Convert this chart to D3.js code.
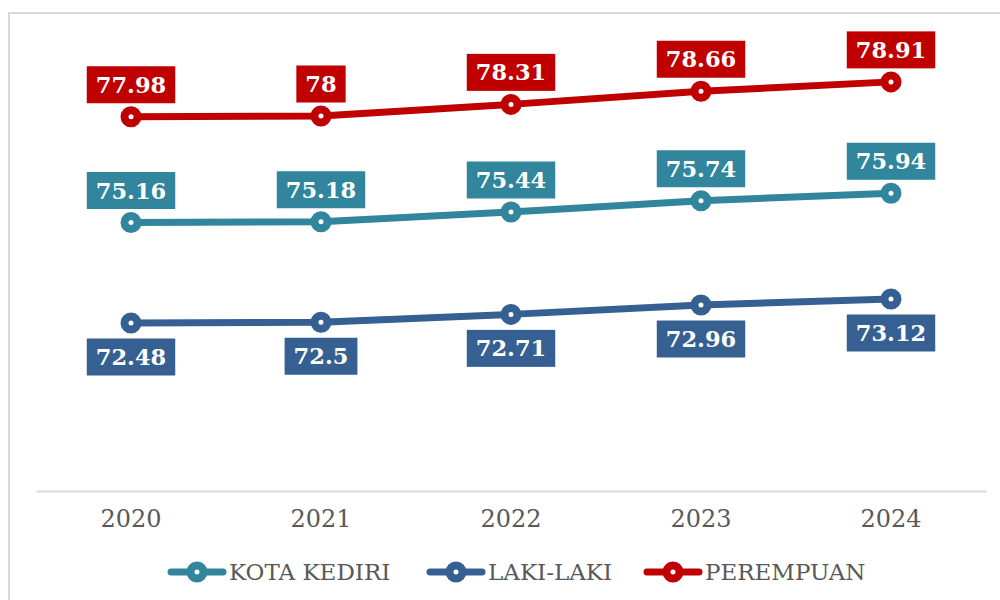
<!DOCTYPE html>
<html>
<head>
<meta charset="utf-8">
<script src="https://cdn.jsdelivr.net/npm/d3@7"></script>
<style>
  html, body { margin: 0; padding: 0; background: #fff; }
  svg { display: block; }
</style>
</head>
<body>
<svg id="chart" width="1000" height="600"></svg>
<script>
const years = ["2020", "2021", "2022", "2023", "2024"];
const seriesNames = ["KOTA KEDIRI", "LAKI-LAKI", "PEREMPUAN"];
const kotaKediri = [75.16, 75.18, 75.44, 75.74, 75.94];
const lakiLaki = [72.48, 72.5, 72.71, 72.96, 73.12];
const perempuan = [77.98, 78, 78.31, 78.66, 78.91];
const colors = ["#31859C", "#376092", "#C00000"];
const yDomain = [68, 80];

const series = [
    { name: seriesNames[0], values: kotaKediri, color: colors[0], above: true },
    { name: seriesNames[1], values: lakiLaki, color: colors[1], above: false },
    { name: seriesNames[2], values: perempuan, color: colors[2], above: true },
];

const svg = d3.select("#chart");

// frame (only top and left edges visible)
svg.append("path")
    .attr("d", "M9,600 L9,13 L1000,13")
    .attr("fill", "none")
    .attr("stroke", "#D9D9D9")
    .attr("stroke-width", 2);

const xScale = d3.scaleBand().domain(years).range([36, 986]);
const yScale = d3.scaleLinear().domain(yDomain).range([491, 41]);

// x axis
const xAxis = svg.append("g")
    .attr("transform", "translate(0,491)")
    .call(d3.axisBottom(xScale).tickSize(0).tickPadding(19));
xAxis.select(".domain").attr("stroke", "#D9D9D9").attr("stroke-width", 2);
xAxis.selectAll("text")
    .attr("fill", "#595959")
    .style("font-family", "'DejaVu Serif', serif")
    .style("font-size", "24px");

const line = d3.line()
    .x((d, i) => xScale(years[i]) + xScale.bandwidth() / 2)
    .y((d) => yScale(d));

series.forEach((s) => {
    svg.append("path")
        .attr("d", line(s.values))
        .attr("fill", "none")
        .attr("stroke", s.color)
        .attr("stroke-width", 7)
        .attr("stroke-linejoin", "round");

    const pts = svg.selectAll(null)
        .data(s.values)
        .enter()
        .append("g")
        .attr("transform", (d, i) =>
            `translate(${xScale(years[i]) + xScale.bandwidth() / 2},${yScale(d)})`);

    pts.append("circle")
        .attr("r", 6.5)
        .attr("fill", "#fff")
        .attr("stroke", s.color)
        .attr("stroke-width", 8);

    // data labels
    const lab = pts.append("g")
        .attr("transform", s.above ? "translate(0,-32)" : "translate(0,34)");
    lab.append("text")
        .attr("text-anchor", "middle")
        .attr("dy", "0.36em")
        .attr("fill", "#fff")
        .style("font-family", "'DejaVu Serif', serif")
        .style("font-weight", "bold")
        .style("font-size", "22.5px")
        .text((d) => String(d));
    lab.each(function () {
        const g = d3.select(this);
        const bb = g.select("text").node().getBBox();
        g.insert("rect", "text")
            .attr("x", bb.x - 9)
            .attr("y", -18.5)
            .attr("width", bb.width + 18)
            .attr("height", 37)
            .attr("fill", s.color);
    });
});

// legend
const legendX = [168, 427, 644];
series.forEach((s, i) => {
    const g = svg.append("g").attr("transform", `translate(${legendX[i]},572)`);
    g.append("line")
        .attr("x1", 3).attr("x2", 55)
        .attr("stroke", s.color)
        .attr("stroke-width", 7)
        .attr("stroke-linecap", "round");
    g.append("circle")
        .attr("cx", 29)
        .attr("r", 6.5)
        .attr("fill", "#fff")
        .attr("stroke", s.color)
        .attr("stroke-width", 8);
    g.append("text")
        .attr("x", 61)
        .attr("dy", "0.36em")
        .attr("fill", "#595959")
        .style("font-family", "'DejaVu Serif', serif")
        .style("font-size", "23px")
        .text(s.name);
});
</script>
</body>
</html>
